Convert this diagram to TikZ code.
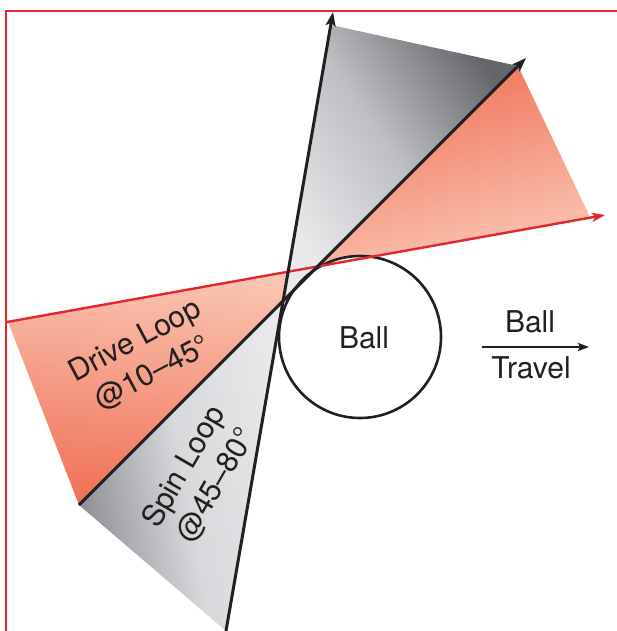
\documentclass[tikz,border=0pt]{standalone}
\usepackage{fontspec}
\setmainfont{TeX Gyre Heros}
\usepackage{tikz}
\usetikzlibrary{arrows.meta}

\definecolor{ink}{RGB}{35,31,32}
\definecolor{framered}{RGB}{228,38,45}
\definecolor{salmonhi}{RGB}{240,112,86}
\definecolor{salmonlo}{RGB}{250,200,182}
\definecolor{grayhi}{RGB}{100,102,107}
\definecolor{graylo}{RGB}{232,233,235}
\definecolor{graymid}{RGB}{140,141,145}

\begin{document}
\begin{tikzpicture}[
    x=1pt, y=-1pt,
    blackline/.style={ink, line width=3pt, -{Stealth[length=14pt, width=10pt, inset=3pt]}},
    redline/.style={framered, line width=2.4pt, -{Stealth[length=13pt, width=9pt, inset=3pt]}},
    frameline/.style={framered, line width=2.4pt},
    travelarr/.style={ink, line width=2.5pt, -{Stealth[length=11pt, width=8pt, inset=2pt]}},
    lbl/.style={text=ink, font=\fontsize{30}{37}\selectfont, inner sep=0pt, align=center},
]
\useasboundingbox (0,0) rectangle (616,631);

% ── Line ends ──
\coordinate (spinlo) at (226,631);
\coordinate (spinhi) at (333,12);
\coordinate (drivelo) at (79,505);
\coordinate (drivehi) at (526,58);
\coordinate (redlo) at (7,322);
\coordinate (redhi) at (605,215);
\coordinate (gx) at (283,302);
\coordinate (rx) at (317,267);

% ── Red wedges ──
\shade[top color=salmonhi, bottom color=salmonlo, shading angle=15]
    (rx) -- (518,66) -- (590,217) -- cycle;
\shade[top color=salmonhi, bottom color=salmonlo, shading angle=175]
    (8,322) -- (rx) -- (drivelo) -- cycle;

% ── Gray wedges ──
\shade[top color=grayhi, bottom color=graylo, middle color=graylo!68!grayhi, shading angle=-55]
    (gx) -- (331,25) -- (518,66) -- cycle;
\shade[top color=graymid, bottom color=graylo, middle color=graylo!82!graymid, shading angle=100]
    (gx) -- (drivelo) -- (spinlo) -- cycle;

% ── Frame ──
\draw[frameline] (620,11) -- (6,11) -- (6,635);

% ── Ball ──
\node[draw=ink, line width=2.6pt, circle, fill=white, minimum size=162pt, inner sep=0pt] (ball) at (360,337) {};
\node[lbl] (balltxt) at (364,338) {Ball};

% ── Loop lines ──
\draw[redline] (redlo) -- (redhi);
\draw[blackline] (drivelo) -- (drivehi);
\draw[blackline] (spinlo) -- (spinhi);

% ── Labels ──
\node[lbl, rotate=28] (drive) at (144,357) {Drive Loop\\@10--45°};
\node[lbl, rotate=60] (spin) at (200,476) {Spin Loop\\@45--80°};

% ── Travel direction ──
\node[lbl] (travtop) at (530,322) {Ball};
\node[lbl] (travbot) at (531,368) {Travel};
\coordinate (tr0) at (482,347);
\coordinate (tr1) at (589,347);
\draw[travelarr] (tr0) -- (tr1);

\end{tikzpicture}
\end{document}
